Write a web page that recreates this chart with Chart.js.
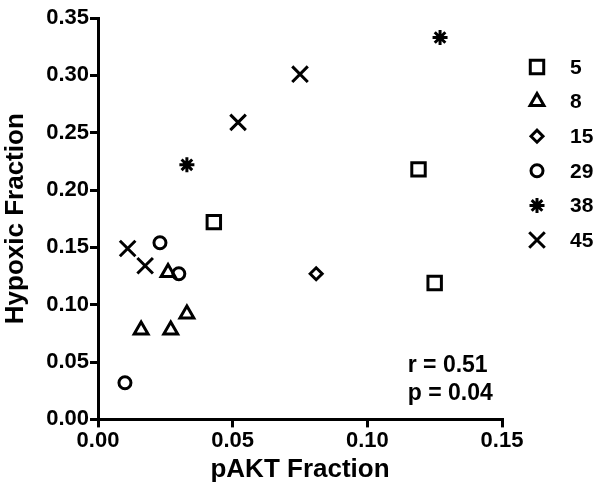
<!DOCTYPE html>
<html>
<head>
<meta charset="utf-8">
<script src="https://cdn.jsdelivr.net/npm/chart.js@4"></script>
<style>
  html, body { margin: 0; padding: 0; background: #fff; }
  #wrap { width: 600px; height: 495px; }
</style>
</head>
<body>
<div id="wrap"><canvas id="hypoxChart"></canvas></div>
<script>
// values (x = pAKT fraction, y = hypoxic fraction)
const groups = ['5', '8', '15', '29', '38', '45'];
const markers = ['rect', 'triangle', 'rectRot', 'circle', 'star', 'crossRot'];
const markerSize = [9.5, 8, 6, 6, 7.5, 11];

const pakt5 = [0.043, 0.119, 0.125];
const hyp5 = [0.172, 0.218, 0.119];
const pakt8 = [0.026, 0.016, 0.027, 0.033];
const hyp8 = [0.128, 0.078, 0.078, 0.092];
const pakt15 = [0.081];
const hyp15 = [0.127];
const pakt29 = [0.023, 0.030, 0.010];
const hyp29 = [0.154, 0.127, 0.032];
const pakt38 = [0.033, 0.127];
const hyp38 = [0.222, 0.333];
const pakt45 = [0.075, 0.052, 0.011, 0.0175];
const hyp45 = [0.301, 0.259, 0.149, 0.134];

const xVals = [pakt5, pakt8, pakt15, pakt29, pakt38, pakt45];
const yVals = [hyp5, hyp8, hyp15, hyp29, hyp38, hyp45];

const xTicks = [0, 0.05, 0.10, 0.15];
const yTicks = [0, 0.05, 0.10, 0.15, 0.20, 0.25, 0.30, 0.35];
const statsText = ['r = 0.51', 'p = 0.04'];

const FONT = '"Liberation Sans", Arial, sans-serif';

const datasets = groups.map((g, i) => ({
  label: g,
  data: xVals[i].map((x, j) => ({ x: x, y: yVals[i][j] })),
  pointStyle: markers[i],
  pointRadius: markerSize[i],
  pointHoverRadius: markerSize[i],
  pointBorderWidth: 3,
  borderColor: '#000',
  backgroundColor: 'rgba(0,0,0,0)',
  pointBackgroundColor: 'rgba(0,0,0,0)',
  pointBorderColor: '#000'
}));

// r / p text in the lower right of the plot
const statsPlugin = {
  id: 'stats',
  afterDatasetsDraw(chart) {
    const { ctx, scales: { x, y } } = chart;
    ctx.save();
    ctx.font = 'bold 23px ' + FONT;
    ctx.fillStyle = '#000';
    ctx.textAlign = 'left';
    ctx.textBaseline = 'alphabetic';
    ctx.fillText(statsText[0], x.getPixelForValue(0.115), y.getPixelForValue(0.041));
    ctx.fillText(statsText[1], x.getPixelForValue(0.115), y.getPixelForValue(0.0165));
    ctx.restore();
  }
};

// legend drawn by hand so each marker keeps its own size
const legendPlugin = {
  id: 'sideLegend',
  afterDraw(chart) {
    const { ctx, chartArea } = chart;
    const mx = chartArea.right + 35;
    const tx = chartArea.right + 68;
    ctx.save();
    ctx.font = 'bold 21px ' + FONT;
    ctx.textAlign = 'left';
    ctx.textBaseline = 'middle';
    chart.data.datasets.forEach((ds, i) => {
      const cy = chartArea.top + 49 + i * 34.6;
      ctx.strokeStyle = '#000';
      ctx.fillStyle = 'rgba(0,0,0,0)';
      ctx.lineWidth = 3;
      Chart.helpers.drawPoint(ctx, { pointStyle: ds.pointStyle, radius: ds.pointRadius, rotation: 0, borderWidth: 3 }, mx, cy);
      ctx.fillStyle = '#000';
      ctx.fillText(ds.label, tx, cy + 1);
    });
    ctx.restore();
  }
};

const tickFont = { family: FONT, size: 22, weight: 'bold' };
const titleFont = { family: FONT, size: 26, weight: 'bold' };

new Chart(document.getElementById('hypoxChart'), {
  type: 'scatter',
  data: { datasets: datasets },
  options: {
    responsive: true,
    maintainAspectRatio: false,
    animation: false,
    layout: { padding: { top: 18, right: 98, bottom: 10, left: 0 } },
    plugins: {
      tooltip: { enabled: false },
      legend: { display: false }
    },
    scales: {
      x: {
        type: 'linear',
        min: 0, max: 0.15,
        border: { color: '#000', width: 3 },
        grid: { drawOnChartArea: false, tickLength: 8, color: '#000', lineWidth: 3 },
        afterBuildTicks: s => { s.ticks = xTicks.map(v => ({ value: v })); },
        ticks: { color: '#000', font: tickFont, padding: 0, maxRotation: 0, callback: v => v.toFixed(2) },
        title: { display: true, text: 'pAKT Fraction', color: '#000', font: titleFont, padding: { top: 0, bottom: 0 } }
      },
      y: {
        type: 'linear',
        min: 0, max: 0.35,
        border: { color: '#000', width: 3 },
        grid: { drawOnChartArea: false, tickLength: 8, color: '#000', lineWidth: 3 },
        afterBuildTicks: s => { s.ticks = yTicks.map(v => ({ value: v })); },
        ticks: { color: '#000', font: tickFont, padding: 1, callback: v => v.toFixed(2) },
        title: { display: true, text: 'Hypoxic Fraction', color: '#000', font: titleFont, padding: { top: 0, bottom: 14 } }
      }
    }
  },
  plugins: [statsPlugin, legendPlugin]
});
</script>
</body>
</html>
